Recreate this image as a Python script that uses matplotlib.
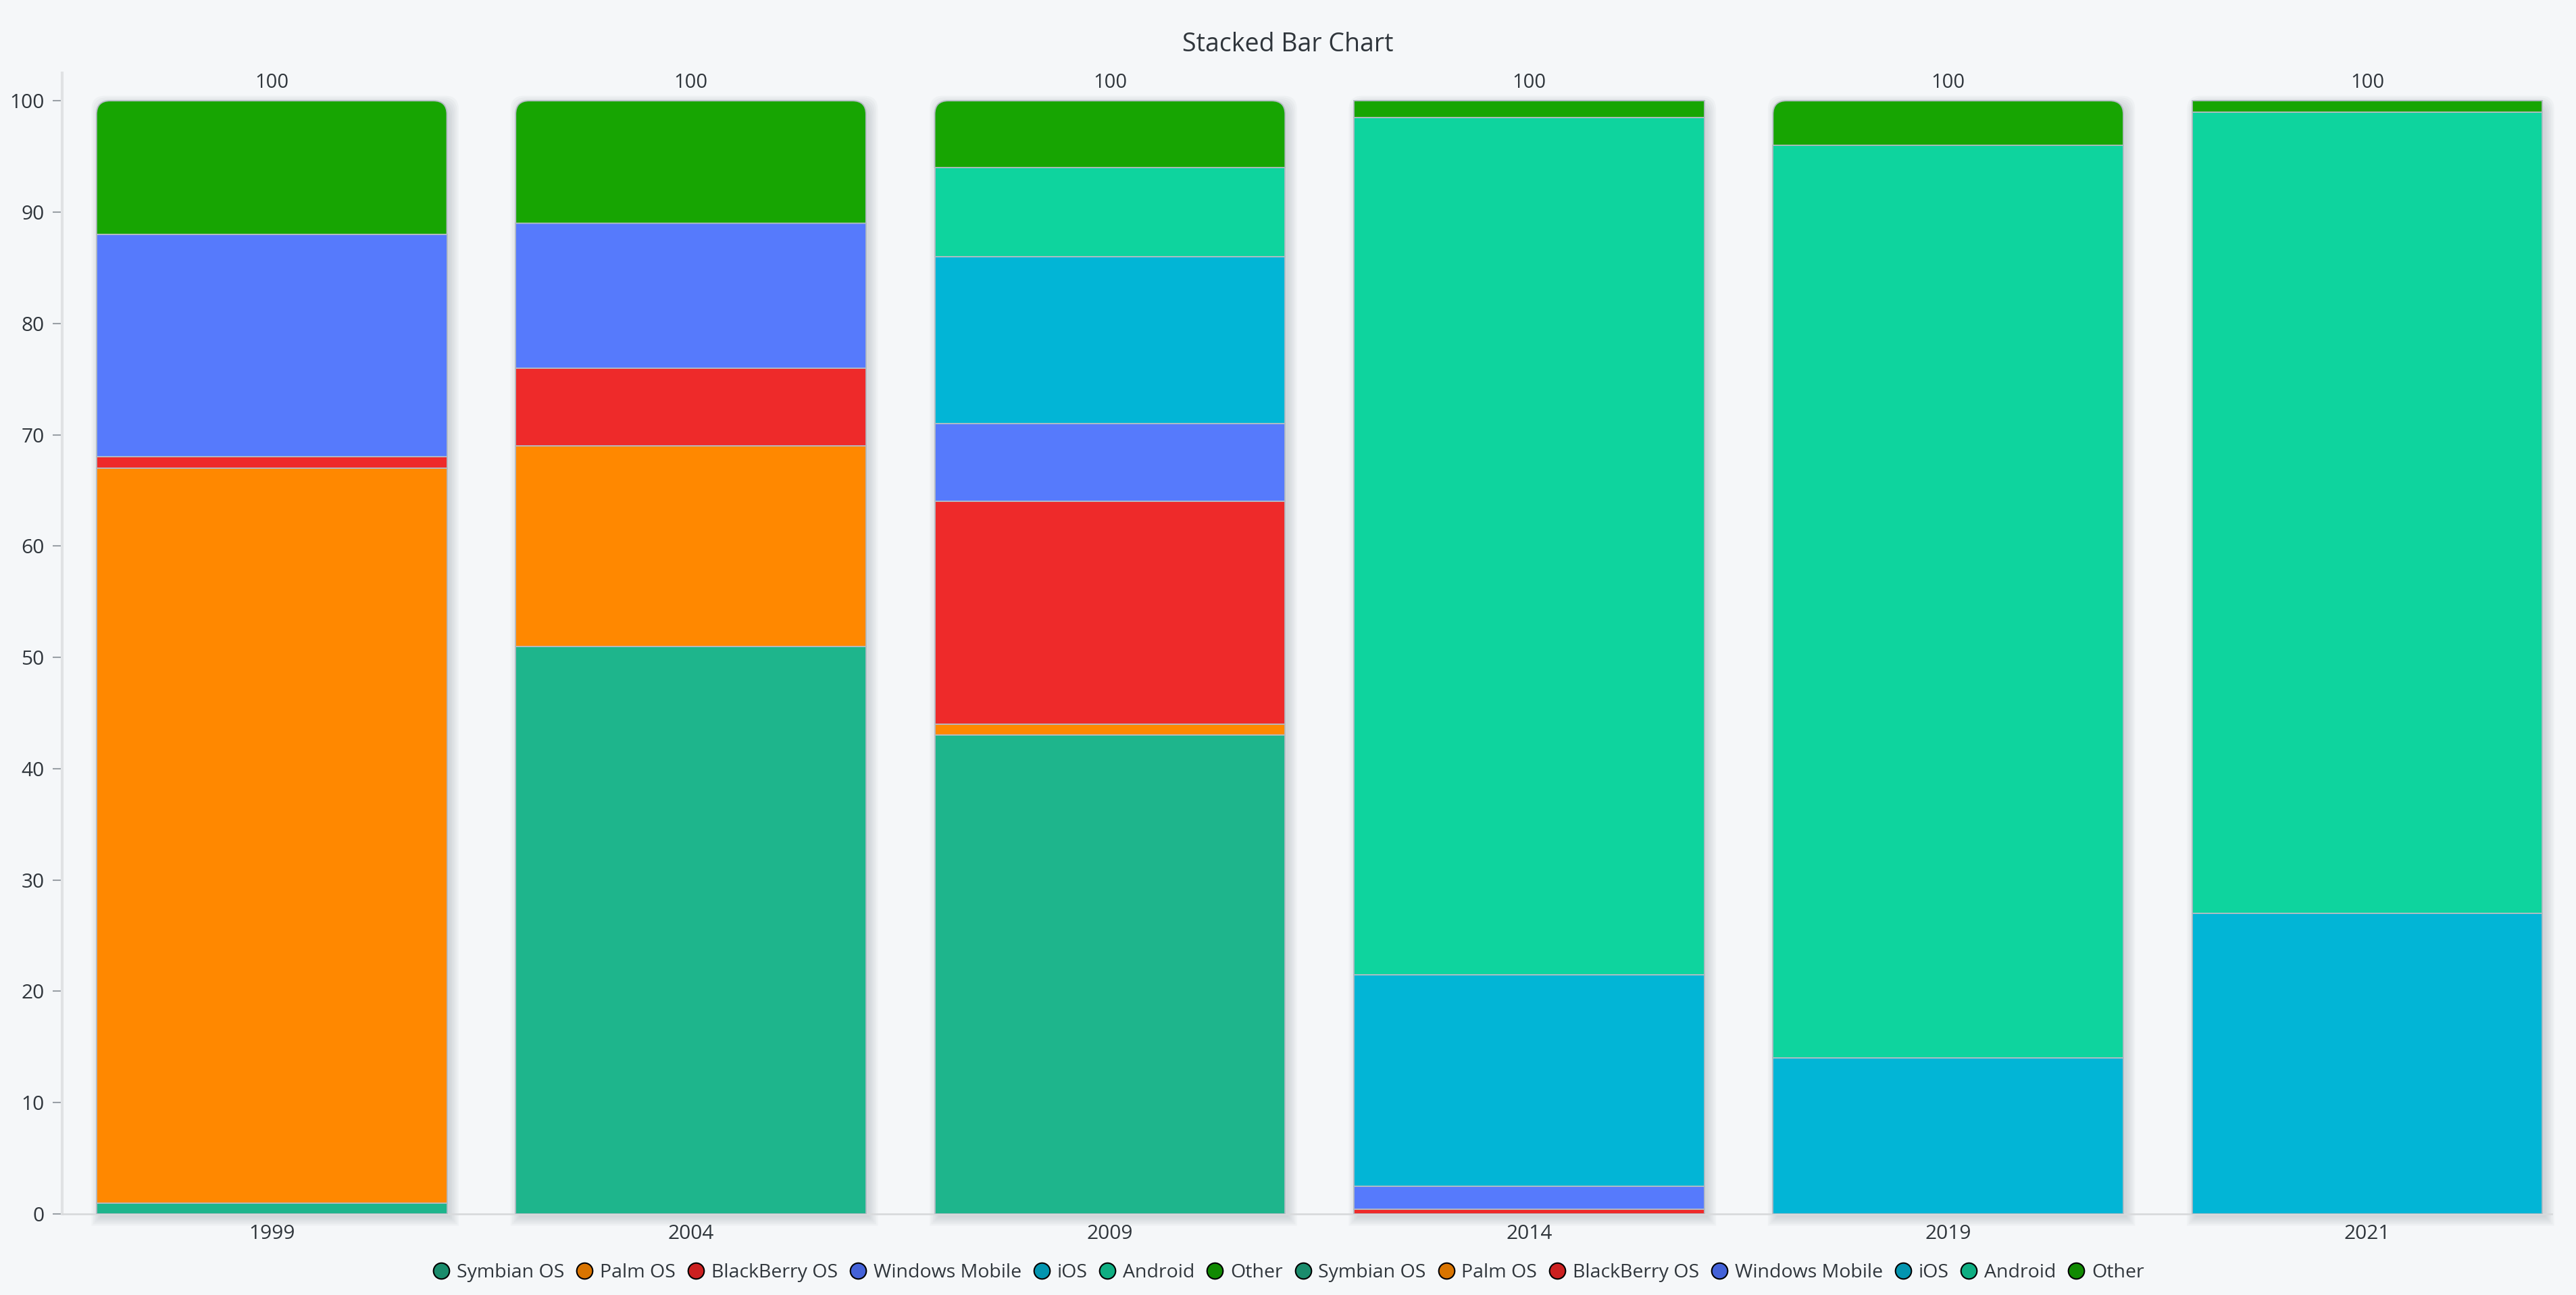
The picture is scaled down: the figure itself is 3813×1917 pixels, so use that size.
import matplotlib
matplotlib.use("Agg")
import matplotlib.pyplot as plt
from matplotlib.path import Path
from matplotlib.patches import PathPatch
from matplotlib.lines import Line2D
from matplotlib.transforms import offset_copy

# data (market share %)
years = ["1999", "2004", "2009", "2014", "2019", "2021"]
series_names = ["Symbian OS", "Palm OS", "BlackBerry OS", "Windows Mobile", "iOS", "Android", "Other"]
symbian = [1, 51, 43, 0, 0, 0]
palm = [66, 18, 1, 0, 0, 0]
blackberry = [1, 7, 20, 0.4, 0, 0]
windows_mobile = [20, 13, 7, 2.1, 0, 0]
ios = [0, 0, 15, 19.0, 14, 27]
android = [0, 0, 8, 77.0, 82, 72]
other = [12, 11, 6, 1.5, 4, 1]

series = [symbian, palm, blackberry, windows_mobile, ios, android, other]
colors = ["#1eb58c", "#ff8800", "#ee2a2a", "#567afc", "#02b5d6", "#0ed49e", "#17a502"]
legend_colors = ["#1a8c6c", "#d97400", "#cc2020", "#4462d8", "#0395b0", "#0fae82", "#118a02"]

bg = "#f5f7f9"
text_col = "#30363c"
edge_col = "#b4bcc4"

W, H, DPI = 3813, 1917, 100
plt.rcParams['font.family'] = ['Open Sans', 'DejaVu Sans']

fig = plt.figure(figsize=(W / DPI, H / DPI), dpi=DPI, facecolor=bg)
ax_l, ax_r, ax_t, ax_b = 92, 3777, 108, 1797
ax = fig.add_axes([ax_l / W, 1 - ax_b / H, (ax_r - ax_l) / W, (ax_b - ax_t) / H])
ax.set_facecolor(bg)

x = list(range(len(years)))
xlim = (-0.5, 5.44)
ylim = (0, 102.5)
ax.set_xlim(*xlim)
ax.set_ylim(*ylim)

bar_w = 0.836
px_x = (ax_r - ax_l) / (xlim[1] - xlim[0])
px_y = (ax_b - ax_t) / (ylim[1] - ylim[0])
r_px = 20
rx, ry = r_px / px_x, r_px / px_y


def top_rounded(x0, x1, y0, y1, rx, ry):
    verts = [(x0, y0), (x0, y1 - ry), (x0, y1), (x0 + rx, y1), (x1 - rx, y1),
             (x1, y1), (x1, y1 - ry), (x1, y0), (x0, y0)]
    codes = [Path.MOVETO, Path.LINETO, Path.CURVE3, Path.CURVE3, Path.LINETO,
             Path.CURVE3, Path.CURVE3, Path.LINETO, Path.CLOSEPOLY]
    return Path(verts, codes)


totals = [sum(s[i] for s in series) for i in x]

# soft shadows behind each bar
for i in x:
    for k in range(6):
        e = k * 2.5
        tr = offset_copy(ax.transData, fig=fig, x=5, y=-5, units='dots')
        p = top_rounded(i - bar_w / 2 - e / px_x, i + bar_w / 2 + e / px_x,
                        -e / px_y, totals[i] + e / px_y, rx, ry)
        ax.add_patch(PathPatch(p, facecolor='#7a8590', edgecolor='none',
                               alpha=0.05, transform=tr, zorder=1, clip_on=False))

bottom = [0] * len(years)
for name, vals, c in zip(series_names, series, colors):
    bars = ax.bar(x, vals, bar_w, bottom=bottom, color=c, edgecolor=edge_col,
                  linewidth=1.3, zorder=3)
    for i, b in enumerate(bars):
        if vals[i] == 0:
            b.set_visible(False)
            continue
        is_top = abs(bottom[i] + vals[i] - totals[i]) < 1e-9
        if is_top and vals[i] * px_y > 2.2 * r_px:
            b.set_visible(False)
            p = top_rounded(b.get_x(), b.get_x() + b.get_width(), b.get_y(),
                            b.get_y() + b.get_height(), rx, ry)
            ax.add_patch(PathPatch(p, facecolor=c, edgecolor=edge_col,
                                   linewidth=1.3, zorder=3))
    bottom = [bt + v for bt, v in zip(bottom, vals)]

for i in x:
    ax.annotate(f"{totals[i]:g}", (i, totals[i]), xytext=(0, 12),
                textcoords='offset pixels', ha='center', va='bottom',
                fontsize=21, color=text_col)

ax.set_xticks(x)
ax.set_xticklabels(years)
ax.set_yticks(range(0, 101, 10))
ax.tick_params(axis='x', length=0, pad=11, labelsize=21.5, labelcolor=text_col)
ax.tick_params(axis='y', length=10, width=1.5, color='#9aa0a6', pad=9,
               labelsize=21.5, labelcolor=text_col)
for s in ['top', 'right']:
    ax.spines[s].set_visible(False)
ax.spines['left'].set_color('#e0e2e4')
ax.spines['left'].set_linewidth(3)
ax.spines['bottom'].set_color('#d8dadc')
ax.spines['bottom'].set_linewidth(2)

fig.text(0.5, 1 - 66 / H, "Stacked Bar Chart", ha='center', va='center',
         fontsize=27, color=text_col)

handles = [Line2D([], [], marker='o', ls='', markersize=17, markerfacecolor=c,
                  markeredgecolor='black', markeredgewidth=1.5)
           for c in legend_colors * 2]
fig.legend(handles, series_names * 2, loc='center', bbox_to_anchor=(0.5, 1 - 1884 / H),
           ncol=14, frameon=False, fontsize=20.5, handletextpad=0.3,
           columnspacing=0.55, handlelength=1.0, labelcolor=text_col)

fig.savefig('out.png', dpi=DPI, facecolor=bg)
